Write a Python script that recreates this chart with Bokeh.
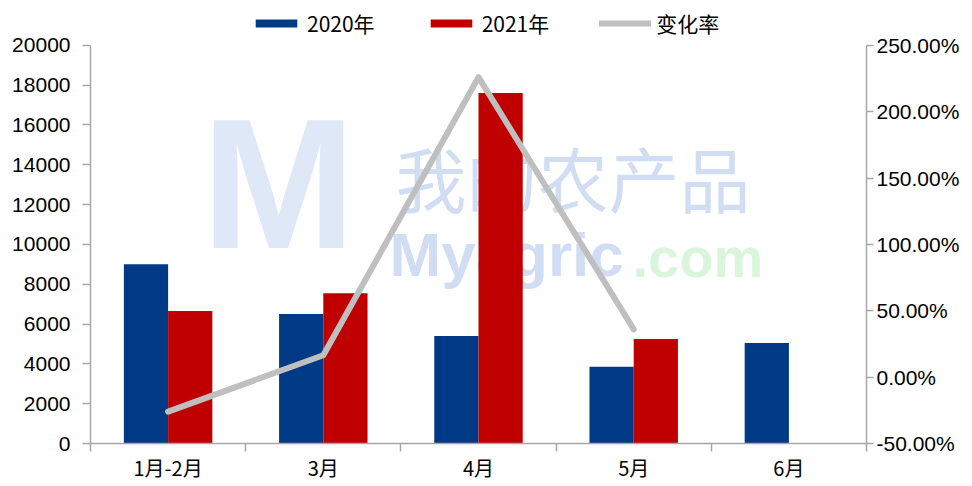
from bokeh.plotting import figure
from bokeh.models import (Range1d, LinearAxis, FixedTicker, NumeralTickFormatter,
                          Legend, LegendItem, Label)
from bokeh.embed import file_html
from bokeh.resources import INLINE

categories = ["1月-2月", "3月", "4月", "5月", "6月"]
v2020 = [9000, 6500, 5400, 3850, 5050]
v2021 = [6650, 7550, 17600, 5250, None]
rate = [-0.26, 0.165, 2.26, 0.36]
series_names = ["2020年", "2021年", "变化率"]
left_ticks = list(range(0, 20001, 2000))
right_ticks = [-0.5, 0, 0.5, 1.0, 1.5, 2.0, 2.5]

BLUE = "#003A86"
RED = "#C00000"
GRAY = "#BFBFBF"
AXC = "#A6A6A6"

# frame extends above the axes (room for the legend); axes are bounded
TOP, BOTTOM = 5, 445
AX_TOP = 45
ext = (BOTTOM - TOP) / (BOTTOM - AX_TOP)

n = len(categories)
centers = [i + 0.5 for i in range(n)]
bw = 0.285
x20 = [c - bw / 2 for c in centers]
y21 = [v for v in v2021 if v is not None]
x21 = [c + bw / 2 for c in centers[:len(y21)]]
xr = centers[:len(rate)]

lo, hi = left_ticks[0], left_ticks[-1]
plo, phi = right_ticks[0], right_ticks[-1]

p = figure(width=970, height=484, output_backend="svg", toolbar_location=None,
           x_range=Range1d(0, n), y_range=Range1d(lo, lo + (hi - lo) * ext),
           min_border_left=90, min_border_right=104, min_border_top=TOP,
           min_border_bottom=484 - BOTTOM)
p.extra_y_ranges = {"pct": Range1d(plo, plo + (phi - plo) * ext)}
p.outline_line_color = None
p.grid.visible = False
p.background_fill_color = "white"

# watermark (faint, behind the marks)
WMB = "#D0DDF3"
wm1 = Label(x=305, y=217, x_units="screen", y_units="screen", text="我的农产品",
            text_font="Noto Sans CJK SC", text_font_size="71px", text_color=WMB,
            level="image")
wm2 = Label(x=299, y=155, x_units="screen", y_units="screen", text="Myagric",
            text_font="Liberation Sans", text_font_size="62px", text_color=WMB,
            text_font_style="bold", level="image")
wm3 = Label(x=542, y=155, x_units="screen", y_units="screen", text=".com",
            text_font="Liberation Sans", text_font_size="56px", text_color="#D9F6DD",
            text_font_style="bold", level="image")
wm4 = Label(x=111, y=157, x_units="screen", y_units="screen", text="M",
            text_font="Liberation Sans", text_font_size="185px", text_color="#DFE8F6",
            text_font_style="bold", level="image")
for w in (wm4, wm1, wm2, wm3):
    p.add_layout(w)

r20 = p.vbar(x=x20, top=v2020, width=bw, fill_color=BLUE, line_color=None)
r21 = p.vbar(x=x21, top=y21, width=bw, fill_color=RED, line_color=None)
rl = p.line(xr, rate, y_range_name="pct", line_color=GRAY, line_width=6,
            line_cap="round", line_join="round")

# x axis
xa = p.xaxis[0]
xa.ticker = FixedTicker(ticks=centers, minor_ticks=list(range(n + 1)))
xa.major_label_overrides = {c: lab for c, lab in zip(centers, categories)}
xa.major_tick_line_color = None
xa.major_tick_out = 5
xa.major_tick_in = 0
xa.minor_tick_out = 8
xa.minor_tick_in = 0
xa.minor_tick_line_color = AXC
xa.minor_tick_line_width = 1.5
xa.axis_line_color = AXC
xa.axis_line_width = 1.5
xa.major_label_text_font = "Noto Sans CJK SC"
xa.major_label_text_font_size = "20px"
xa.major_label_text_color = "black"
xa.major_label_standoff = 1

# left axis
ya = p.yaxis[0]
ya.ticker = FixedTicker(ticks=left_ticks)
ya.bounds = (lo, hi)
ya.minor_tick_line_color = None
ya.major_tick_out = 8
ya.major_tick_in = 0
ya.major_tick_line_color = AXC
ya.major_tick_line_width = 1.5
ya.axis_line_color = AXC
ya.axis_line_width = 1.5
ya.major_label_text_font = "Liberation Sans"
ya.major_label_text_font_size = "21px"
ya.major_label_text_color = "black"
ya.major_label_standoff = 12

# right axis
ra = LinearAxis(y_range_name="pct")
ra.ticker = FixedTicker(ticks=right_ticks)
ra.bounds = (plo, phi)
ra.formatter = NumeralTickFormatter(format="0.00%")
ra.minor_tick_line_color = None
ra.major_tick_out = 7
ra.major_tick_in = 0
ra.major_tick_line_color = AXC
ra.major_tick_line_width = 1.5
ra.axis_line_color = AXC
ra.axis_line_width = 1.5
ra.major_label_text_font = "Liberation Sans"
ra.major_label_text_font_size = "21px"
ra.major_label_text_color = "black"
ra.major_label_standoff = 3
p.add_layout(ra, "right")

legend = Legend(items=[LegendItem(label=series_names[0], renderers=[r20]),
                       LegendItem(label=series_names[1], renderers=[r21]),
                       LegendItem(label=series_names[2], renderers=[rl])],
                location=(160, 405), orientation="horizontal")
legend.border_line_color = None
legend.background_fill_alpha = 0
legend.glyph_width = 52
legend.glyph_height = 10
legend.label_height = 24
legend.label_standoff = 5
legend.spacing = 50
legend.padding = 0
legend.margin = 0
legend.label_text_font = "Noto Sans CJK SC"
legend.label_text_font_size = "21px"
legend.label_text_color = "black"
p.add_layout(legend, "center")

open("out.html", "w").write(file_html(p, INLINE))
